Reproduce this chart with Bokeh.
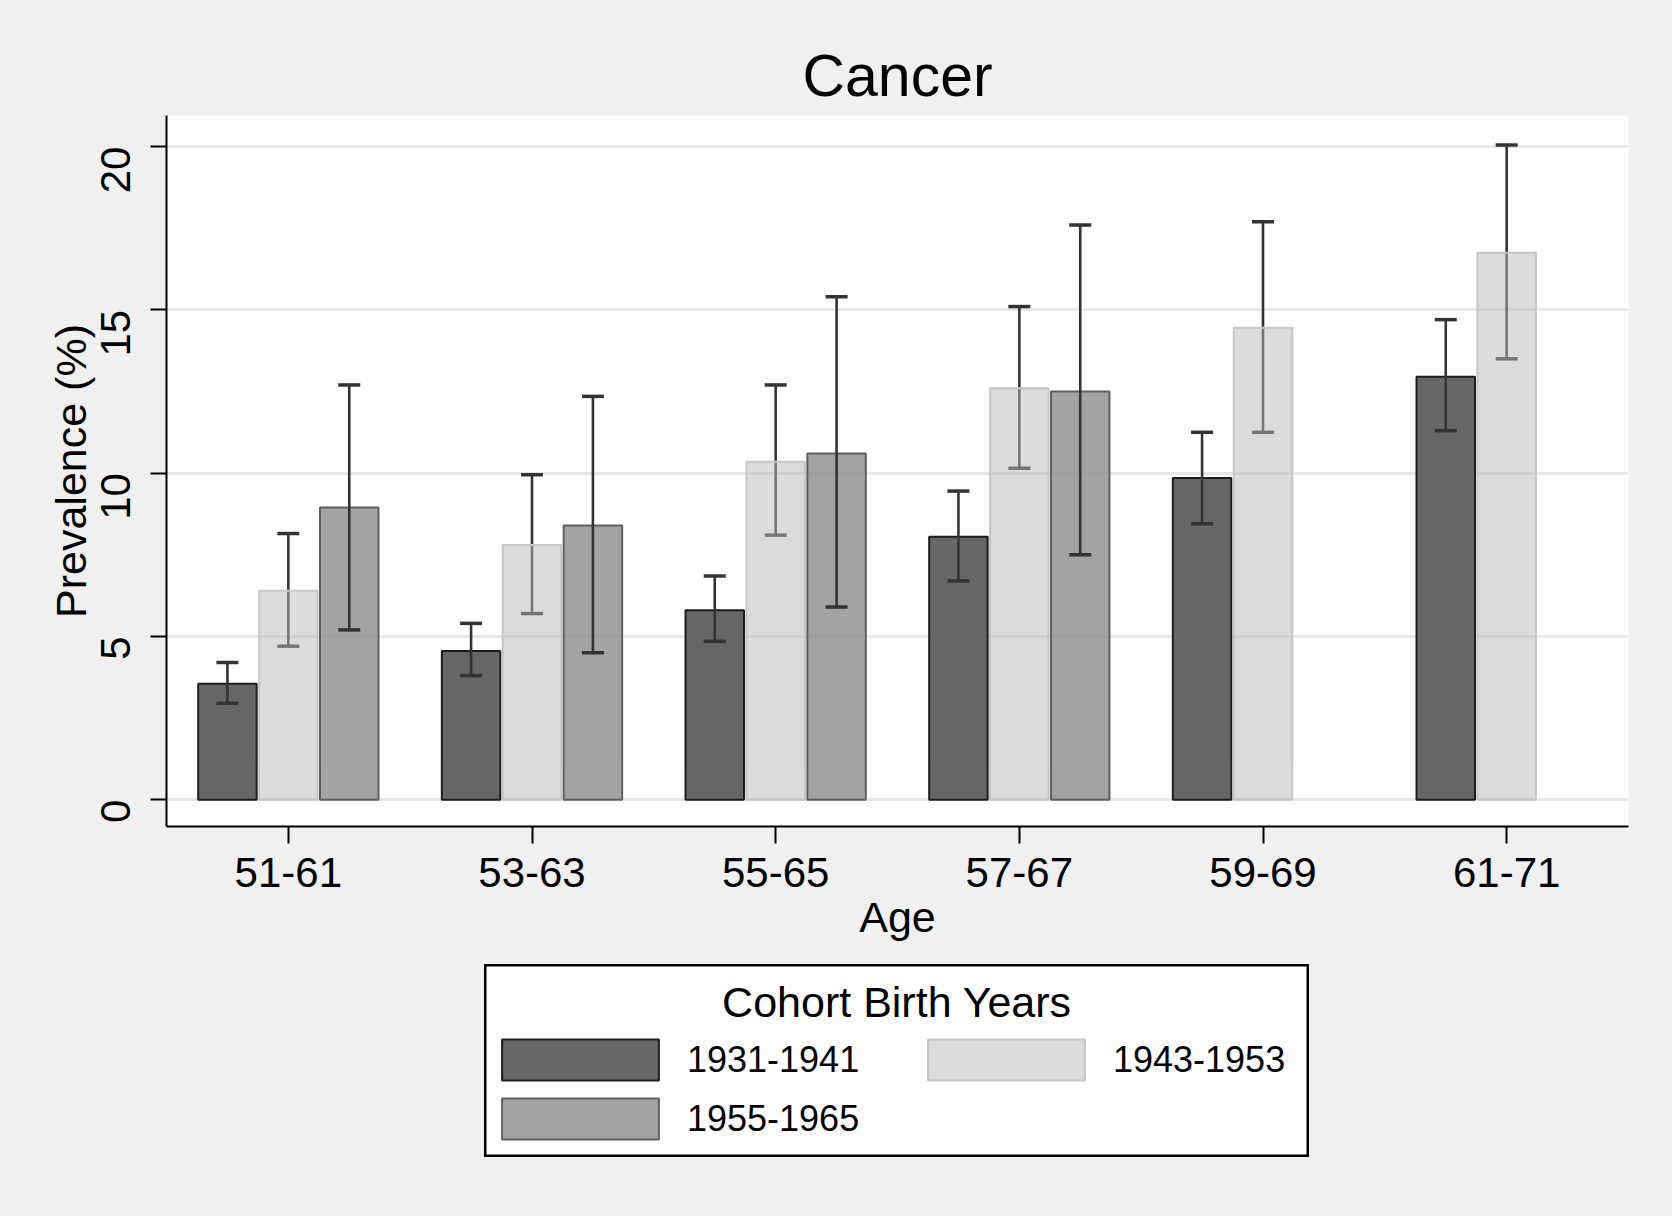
import math
from bokeh.plotting import figure
from bokeh.models import (ColumnDataSource, FactorRange, Range1d, FixedTicker,
                          Legend, LegendItem, Label, Spacer)
from bokeh.transform import dodge
from bokeh.layouts import column, row
from bokeh.embed import file_html
from bokeh.resources import INLINE

FONT = "Liberation Sans"

# ---------------- data ----------------
ages = ["51-61", "53-63", "55-65", "57-67", "59-69", "61-71"]
cohorts = ["1931-1941", "1943-1953", "1955-1965"]

c1_mean = [3.55, 4.55, 5.80, 8.05, 9.85, 12.95]
c1_lo = [2.95, 3.80, 4.85, 6.70, 8.45, 11.30]
c1_hi = [4.20, 5.40, 6.85, 9.45, 11.25, 14.70]

c2_mean = [6.40, 7.80, 10.35, 12.60, 14.45, 16.75]
c2_lo = [4.70, 5.70, 8.10, 10.15, 11.25, 13.50]
c2_hi = [8.15, 9.95, 12.70, 15.10, 17.70, 20.05]

c3_ages = ["51-61", "53-63", "55-65", "57-67"]
c3_mean = [8.95, 8.40, 10.60, 12.50]
c3_lo = [5.20, 4.50, 5.90, 7.50]
c3_hi = [12.70, 12.35, 15.40, 17.60]

y_ticks = [0, 5, 10, 15, 20]

s1 = ColumnDataSource(dict(age=ages, m=c1_mean, lo=c1_lo, hi=c1_hi))
s2 = ColumnDataSource(dict(age=ages, m=c2_mean, lo=c2_lo, hi=c2_hi))
s3 = ColumnDataSource(dict(age=c3_ages, m=c3_mean, lo=c3_lo, hi=c3_hi))

# styles
dark_fill, dark_line, dark_alpha = "#666666", "#1c1c1c", 1.0
light_fill, light_line, light_alpha = "#bababa", "#c6c6c6", 0.5
mid_fill, mid_line, mid_alpha = "#8c8c8c", "#606060", 0.8
err_col = "#333333"

p = figure(x_range=FactorRange(factors=ages, range_padding=0),
           y_range=Range1d(-0.82, 20.95),
           frame_width=1462, frame_height=711,
           min_border_left=166, min_border_right=36,
           min_border_top=115, min_border_bottom=138,
           output_backend="svg", toolbar_location=None, title="Cancer")

p.background_fill_color = "white"
p.border_fill_color = "#f0f0f0"
p.outline_line_color = None

p.title.align = "center"
p.title.text_font = FONT
p.title.text_font_size = "59px"
p.title.text_font_style = "normal"
p.title.text_color = "black"
p.title.standoff = 14

p.xgrid.grid_line_color = None
p.ygrid.grid_line_color = "#e8e8e8"
p.ygrid.grid_line_width = 3
p.yaxis.ticker = FixedTicker(ticks=y_ticks)

for ax in (p.xaxis[0], p.yaxis[0]):
    ax.axis_line_color = "black"
    ax.axis_line_width = 2
    ax.major_tick_line_color = "black"
    ax.major_tick_line_width = 2
    ax.major_tick_in = 0
    ax.minor_tick_line_color = None
    ax.major_label_text_font = FONT
    ax.major_label_text_font_size = "42px"
    ax.major_label_text_color = "black"
    ax.axis_label_text_font = FONT
    ax.axis_label_text_font_size = "43px"
    ax.axis_label_text_font_style = "normal"
    ax.axis_label_text_color = "black"

p.xaxis.major_tick_out = 17
p.yaxis.major_tick_out = 16
p.xaxis.major_label_standoff = 14
p.yaxis.major_label_standoff = 35
p.yaxis.major_label_orientation = math.pi / 2
p.xaxis.axis_label = "Age"
p.yaxis.axis_label = "Prevalence (%)"
p.xaxis.axis_label_standoff = 3
p.yaxis.axis_label_standoff = -11

off = 0.25
bw = 0.24

# light cohort error bars go beneath its translucent bars
x2 = dodge("age", 0.0, range=p.x_range)
p.segment(x0=x2, y0="lo", x1=x2, y1="hi", source=s2, line_color=err_col, line_width=2.6)
p.scatter(x=x2, y="lo", source=s2, marker="dash", size=22, line_color=err_col, line_width=3.5)
p.scatter(x=x2, y="hi", source=s2, marker="dash", size=22, line_color=err_col, line_width=3.5)

x1 = dodge("age", -off, range=p.x_range)
x3 = dodge("age", off, range=p.x_range)

r1 = p.vbar(x=x1, top="m", bottom=0, width=bw, source=s1,
            fill_color=dark_fill, fill_alpha=dark_alpha, line_color=dark_line, line_width=2)
r2 = p.vbar(x=x2, top="m", bottom=0, width=bw, source=s2,
            fill_color=light_fill, fill_alpha=light_alpha, line_color=light_line, line_width=2)
r3 = p.vbar(x=x3, top="m", bottom=0, width=bw, source=s3,
            fill_color=mid_fill, fill_alpha=mid_alpha, line_color=mid_line, line_width=2)

for xs, src in ((x1, s1), (x3, s3)):
    p.segment(x0=xs, y0="lo", x1=xs, y1="hi", source=src, line_color=err_col, line_width=2.6)
    p.scatter(x=xs, y="lo", source=src, marker="dash", size=22, line_color=err_col, line_width=3.5)
    p.scatter(x=xs, y="hi", source=src, marker="dash", size=22, line_color=err_col, line_width=3.5)

# ---------------- legend box (separate small figure) ----------------
# The bars in this panel reuse the real data but are hidden; they only
# supply the legend swatches.
LW, LH = 825, 193
pl = figure(width=LW, height=LH, x_range=FactorRange(factors=ages),
            y_range=Range1d(0, 25),
            x_axis_type=None, y_axis_type=None, min_border=0,
            output_backend="svg", toolbar_location=None)
pl.background_fill_color = "white"
pl.border_fill_color = "white"
pl.outline_line_color = "black"
pl.outline_line_width = 4
pl.xgrid.visible = False
pl.ygrid.visible = False

l1 = pl.vbar(x="age", top="m", bottom=0, width=0.2, source=s1,
             fill_color=dark_fill, fill_alpha=dark_alpha, line_color=dark_line, line_width=2)
l2 = pl.vbar(x="age", top="m", bottom=0, width=0.2, source=s2,
             fill_color=light_fill, fill_alpha=light_alpha, line_color=light_line, line_width=2)
l3 = pl.vbar(x="age", top="m", bottom=0, width=0.2, source=s3,
             fill_color=mid_fill, fill_alpha=mid_alpha, line_color=mid_line, line_width=2)
for r in (l1, l2, l3):
    r.visible = False


def make_legend(items, loc):
    return Legend(items=items, location=loc, orientation="vertical",
                  glyph_width=196, glyph_height=51, label_standoff=9,
                  spacing=8, padding=0, margin=0,
                  label_text_font=FONT, label_text_font_size="36px",
                  label_text_color="black",
                  inactive_fill_alpha=0,
                  border_line_color=None, background_fill_alpha=0)


legA = make_legend([LegendItem(label=cohorts[0], renderers=[l1]),
                    LegendItem(label=cohorts[2], renderers=[l3])], (-2, 13))
legB = make_legend([LegendItem(label=cohorts[1], renderers=[l2])], (424, 72))
pl.add_layout(legA, "center")
pl.add_layout(legB, "center")

ttl = Label(x=LW / 2, y=LH - 37, x_units="screen", y_units="screen",
            text="Cohort Birth Years", text_align="center", text_baseline="middle",
            text_font=FONT, text_font_size="43px", text_color="black")
pl.add_layout(ttl)

layout = column(p, row(Spacer(width=484, height=LH), pl))

html = file_html(layout, INLINE, title="Cancer")
html = html.replace("</head>", "<style>html,body{background:#f0f0f0;}</style></head>", 1)
open("out.html", "w").write(html)
